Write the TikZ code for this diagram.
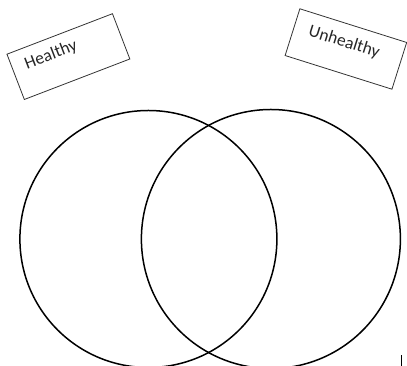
\documentclass[tikz,border=0pt]{standalone}
\usepackage{fontspec}
\setmainfont{Carlito}
\usepackage{tikz}

\begin{document}
\begin{tikzpicture}[x=1pt, y=1pt,
  setcirc/.style={circle,draw,line width=1.5pt,minimum size=257pt},
  labelbox/.style={draw=black!80,line width=0.8pt,minimum width=113pt,minimum height=48.5pt},
  labeltext/.style={text=black!85,font=\fontsize{17.5}{20}\selectfont}]
\useasboundingbox (0,0) rectangle (407,366);
\draw (148.4,127) node (HCirc) [setcirc] {};
\draw (270.9,127) node (UCirc) [setcirc,minimum size=259pt] {};

\draw (68.4,309.4) node (HBox) [labelbox,rotate=21] {};
\draw (345.9,317) node (UBox) [labelbox,rotate=-17.5,minimum width=112pt,minimum height=49pt] {};

\node (HText) [labeltext,rotate=21] at (51,311) {Healthy};
\node (UText) [labeltext,rotate=-17.5] at (344,323.7) {Unhealthy};

\coordinate (Tick) at (401,0);
\draw[line width=0.8pt] (Tick) -- ++(0,11);
\end{tikzpicture}
\end{document}
